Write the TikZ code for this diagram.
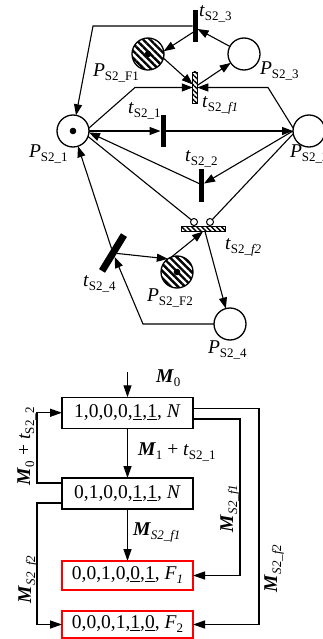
\documentclass[tikz,border=0pt]{standalone}
\usepackage{fontspec}
\setmainfont{Liberation Serif}
\usetikzlibrary{arrows.meta,patterns.meta,calc}
\newcommand{\sbx}[1]{\raisebox{-4pt}{\fontsize{13}{13}\selectfont #1}}
\newcommand{\bM}{\textbf{\textit{M}}}
\begin{document}
\begin{tikzpicture}[x=1pt,y=-1pt,
  every node/.style={font=\fontsize{19.5}{22}\selectfont, inner sep=0pt, outer sep=0pt},
  arc/.style={line width=1.1pt, -{Triangle[length=11pt,width=8pt]}},
  barc/.style={line width=1.3pt, -{Triangle[length=12pt,width=8pt]}},
  ln/.style={line width=1.1pt},
  place/.style={circle, draw, line width=1.3pt, minimum size=32pt},
  hplace/.style={place, pattern={Lines[angle=-45,distance=5pt,line width=2.4pt]}},
  token/.style={circle, fill=black, minimum size=6.6pt},
  trans/.style={rectangle, fill=black, minimum width=5pt, minimum height=32pt},
  htrans/.style={rectangle, draw, line width=0.8pt, pattern={Lines[angle=-45,distance=3.5pt,line width=1.4pt]}},
  inh/.style={circle, draw, fill=white, line width=1pt, minimum size=7pt},
  lbl/.style={anchor=base west},
  box/.style={rectangle, draw, line width=1.3pt, minimum width=131pt},
  rbox/.style={box, draw=red}
]
\useasboundingbox (0,0) rectangle (323,639);
\clip (0,0) rectangle (323,639);

% places
\node[place] (P1) at (73,131) {};
\node[place] (P2) at (309,131) {};
\node[hplace] (PF1) at (148,54) {};
\node[place] (P3) at (244,54) {};
\node[hplace] (PF2) at (177,272) {};
\node[place] (P4) at (230,324) {};
\node[token] (k1) at (P1) {};
\node[token] (k2) at (PF1) {};
\node[token] (k3) at (PF2) {};

% transitions
\node[trans] (t3) at (195,26) {};
\node[htrans, minimum width=4.5pt, minimum height=31pt] (tf1) at (195,87.5) {};
\node[trans] (t1) at (163,131) {};
\node[trans] (t2) at (201.5,185.5) {};
\node[htrans, minimum width=44pt, minimum height=5pt] (tf2) at (203,229) {};
\node[trans, minimum width=7pt, minimum height=42pt, rotate=-31.4] (t4) at (113,253) {};
\node[inh] (i1) at (194,222) {};
\node[inh] (i2) at (210,222) {};

% bend points
\coordinate (c1) at (93,26);
\coordinate (c2) at (135,87.5);
\coordinate (c3) at (268,87.5);
\coordinate (c4) at (143,324);

% arcs
\draw[arc] ([yshift=-5pt]t3.center) -- (PF1.10);
\draw[arc] (P3) -- ([yshift=-3pt]t3.east);
\draw[arc] (t3.west) -- (c1) -- (P1);
\draw[arc] (PF1.-15) -- ([yshift=3pt]tf1.west);
\draw[arc] ([yshift=2pt]tf1.east) -- (P3);
\draw[arc] (P1.10) -- (c2) -- (tf1.west);
\draw[arc] (P2.170) -- (c3) -- (tf1.east);
\draw[arc] (P1.east) -- (t1);
\draw[arc] (t1) -- (P2.west);
\draw[arc] ([yshift=2pt]t2.west) -- (P1.-5);
\draw[arc] (P2.west) -- ([yshift=2pt]t2.east);
\draw[ln] (P1.-20) -- (i1);
\draw[ln] (P2.-170) -- (i2);
\draw[arc] (t4) -- (P1);
\draw[arc] (t4) -- (PF2.125);
\draw[arc] (PF2.110) -- (tf2.south);
\draw[arc] ([xshift=2pt]tf2.south) -- (P4);
\draw[arc] (P4.west) -- (c4) -- (t4);

% labels (net)
\node[lbl] (lt3) at (199,17) {\textit{t}\sbx{S2\_3}};
\node[lbl] (lpf1) at (93,77) {\textit{P}\sbx{S2\_F1}};
\node[lbl] (lp3) at (260,75) {\textit{P}\sbx{S2\_3}};
\node[lbl] (ltf1) at (202,108) {\textit{t}\sbx{S2\_\textit{f1}}};
\node[lbl] (lt1) at (128,114) {\textit{t}\sbx{S2\_1}};
\node[lbl] (lp1) at (29,158) {\textit{P}\sbx{S2\_1}};
\node[lbl] (lp2) at (290,158) {\textit{P}\sbx{S2\_2}};
\node[lbl] (lt2) at (185,162) {\textit{t}\sbx{S2\_2}};
\node[lbl] (ltf2) at (225,249) {\textit{t}\sbx{S2\_\textit{f2}}};
\node[lbl] (lt4) at (83,286) {\textit{t}\sbx{S2\_4}};
\node[lbl] (lpf2) at (147,301) {\textit{P}\sbx{S2\_F2}};
\node[lbl] (lp4) at (208,353) {\textit{P}\sbx{S2\_4}};

% reachability graph
\node[box, minimum height=31pt] (b1) at (127.5,412.75) {1,0,0,0,\underline{1},\underline{1}, \textit{N}};
\node[box, minimum height=31pt] (b2) at (127.5,493.5) {0,1,0,0,\underline{1},\underline{1}, \textit{N}};
\node[rbox, minimum height=29pt] (b3) at (127.5,575.5) {0,0,1,0,\underline{0},\underline{1}, \textit{F}\sbx{\textit{1}}};
\node[rbox, minimum height=27pt] (b4) at (127.5,624.5) {0,0,0,1,\underline{1},\underline{0}, \textit{F}\sbx{2}};

\coordinate (m0) at (127.5,372);
\draw[barc] (m0) -- (b1.north);
\draw[barc] (b1) -- (b2);
\draw[barc] (b2) -- (b3);
\draw[barc] ([yshift=10.5pt]b2.west) -| ([xshift=-25pt]b1.west) -- (b1.west);
\draw[barc] ([yshift=-9.5pt]b2.west) -| ([xshift=-25pt]b4.west) -- (b4.west);
\draw[barc] ([yshift=-6.25pt]b1.east) -| ([xshift=47pt]b3.east) -- (b3.east);
\draw[barc] ([yshift=4.5pt]b1.east) -| ([xshift=66pt]b4.east) -- (b4.east);

\node[lbl] (lm0) at (156,382) {\bM\sbx{0}};
\node[lbl] (lm1) at (138,455) {\bM\sbx{1} + \textit{t}\sbx{S2\_1}};
\node[lbl] (lmf1) at (133,535) {\bM\sbx{\textit{S2\_f1}}};
\node[lbl, rotate=90] (lr1) at (30,485) {\bM\sbx{0} + \textit{t}\sbx{S2\_2}};
\node[lbl, rotate=90] (lr2) at (31,603) {\bM\sbx{\textit{S2\_f2}}};
\node[lbl, rotate=90] (lr3) at (233,532) {\bM\sbx{\textit{S2\_f1}}};
\node[lbl, rotate=90] (lr4) at (277,592) {\bM\sbx{\textit{S2\_f2}}};
\end{tikzpicture}
\end{document}
